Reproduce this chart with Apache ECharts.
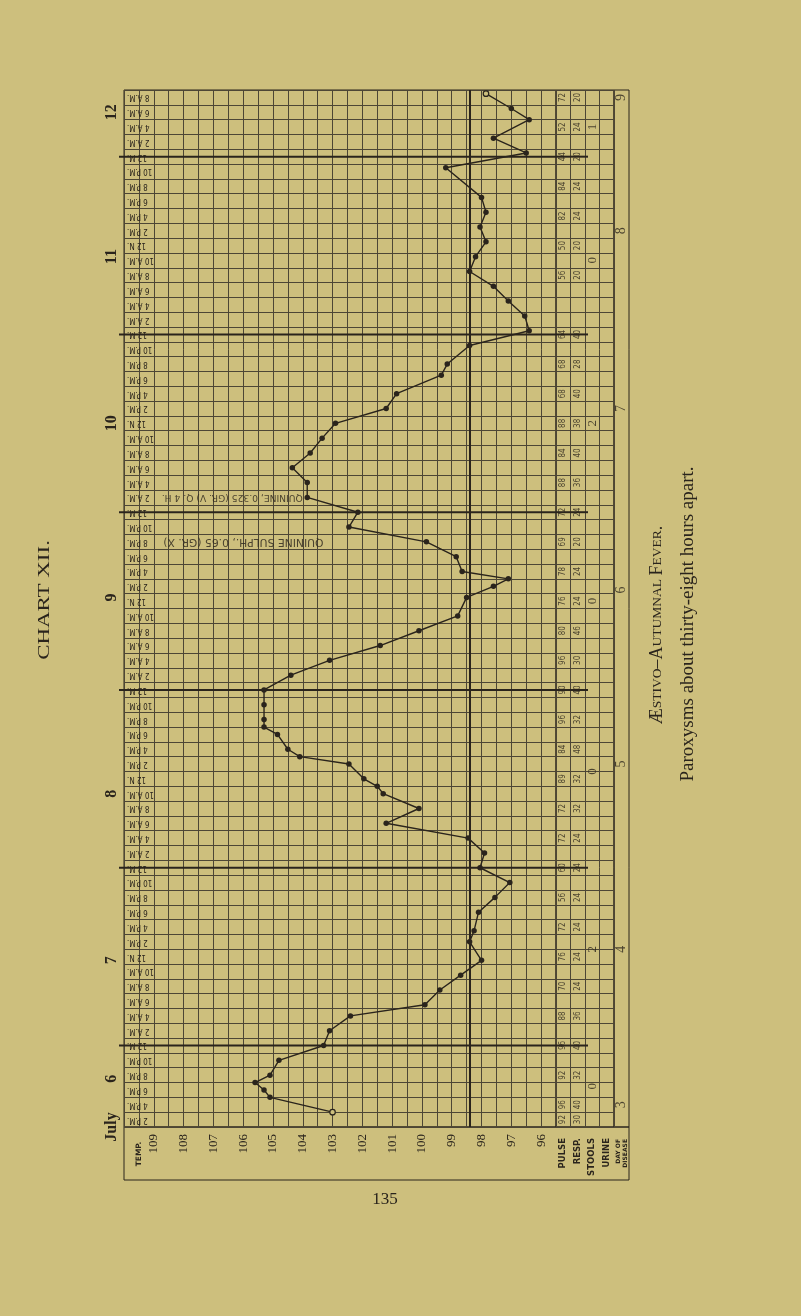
<!DOCTYPE html>
<html>
<head>
<meta charset="utf-8">
<script src="https://cdn.jsdelivr.net/npm/echarts@6.0.0/dist/echarts.min.js"></script>
<style>
html,body{margin:0;padding:0;background:#cdbf7d;}
#chart{width:801px;height:1316px;}
</style>
</head>
<body>
<div id="chart"></div>
<script>
// ---------------- DATA (hours counted from July 6, 0:00) ----------------
const obsHours = [15, 17, 18, 19, 20, 22, 24, 26, 28, 29.5, 31.5, 33.5, 35.5, 38, 39.5, 42, 44, 46, 48,
  50, 52, 54, 56, 58, 59, 60, 62, 63, 64, 66, 67, 68, 70, 72, 74, 76, 78, 80, 82,
  84.5, 86, 87, 88, 90, 92, 94, 96, 98, 100, 102, 104, 106, 108, 110, 112, 114.5, 116, 118.5, 120.5,
  122.5, 124.5, 126.5, 128.5, 130.5, 132.5, 134.5, 136.5, 138.5, 142.5, 144.5, 146.5, 149, 150.5, 152.5];
const temps = [103.0, 105.1, 105.3, 105.6, 105.1, 104.8, 103.3, 103.1, 102.4, 99.9, 99.4, 98.7, 98.0, 98.4, 98.25, 98.1, 97.55, 97.05, 98.05,
  97.9, 98.45, 101.2, 100.1, 101.3, 101.5, 101.95, 102.45, 104.1, 104.5, 104.85, 105.3, 105.3, 105.3, 105.3, 104.4, 103.1, 101.4, 100.1, 98.8,
  98.5, 97.6, 97.1, 98.65, 98.85, 99.85, 102.45, 102.15, 103.85, 103.85, 104.35, 103.75, 103.35, 102.9, 101.2, 100.85, 99.35, 99.15, 98.4, 96.4,
  96.55, 97.1, 97.6, 98.4, 98.2, 97.85, 98.05, 97.85, 98.0, 99.2, 96.5, 97.6, 96.4, 97.0, 97.85];
const hollowPoints = [0, 73];

const pulseHours = [152, 148, 144, 140, 136, 132, 128, 120, 116, 112, 108, 104, 100, 96, 92, 88, 84, 80, 76, 72, 68, 64, 60, 56, 52, 48, 44, 40, 36, 32, 28, 24, 20, 16, 14];
const pulse = [72, 52, 44, 84, 82, 50, 56, 64, 68, 68, 88, 84, 88, 72, 69, 78, 76, 80, 96, 90, 96, 84, 89, 72, 72, 60, 56, 72, 76, 70, 88, 96, 92, 96, 92];
const resp  = [20, 24, 20, 24, 24, 20, 20, 40, 28, 40, 38, 40, 36, 24, 20, 24, 24, 46, 30, 40, 32, 48, 32, 32, 24, 24, 24, 24, 24, 24, 36, 40, 32, 40, 30];

const stoolHours = [148, 130, 108, 84, 61, 37, 18.5];
const stools = [1, 0, 2, 0, 0, 2, 0];

const dayHours = [16, 37, 62, 85.5, 110, 134, 152];
const dayOfDisease = [3, 4, 5, 6, 7, 8, 9];

const dateHours = [13, 19.5, 35.5, 58, 84.5, 108, 130.5, 150];
const dateLabels = ['July', '6', '7', '8', '9', '10', '11', '12'];

const midnights = [24, 48, 72, 96, 120, 144];
const normalTemp = 98.4;
const tempLabels = [109, 108, 107, 106, 105, 104, 103, 102, 101, 100, 99, 98, 97, 96];
const columnNames = ['PULSE', 'RESP.', 'STOOLS', 'URINE'];

const noteTexts = ['QUININE, 0.325 (GR. V) Q. 4 H.', 'QUININE SULPH., 0.65 (GR. X)'];
const noteHours = [98, 92];
const noteTemps = [104.0, 103.3];
const noteSizes = [9.2, 10.8];

// ---------------- STYLE ----------------
const BG = '#cdbf7d', INK = '#2a241c', GRIDC = '#4d4635';
const SERIF = '"Liberation Serif", "DejaVu Serif", serif';
const SANS = '"Liberation Sans Narrow", "DejaVu Sans Condensed", "Liberation Sans", sans-serif';
const WIDE = '"DejaVu Sans", sans-serif';

const rowHours = [];
for (let h = 14; h <= 152; h += 2) rowHours.push(h);
function rowLabel(h) {
  const r = h % 24;
  if (r === 0) return '12 M.';
  if (r === 12) return '12 N.';
  return (r % 12) + ' ' + (r < 12 ? 'A.M.' : 'P.M.');
}

const chart = echarts.init(document.getElementById('chart'));
const splitStyle = { show: true, interval: 0, lineStyle: { color: GRIDC, width: 1 } };

const option = {
  backgroundColor: BG,
  animation: false,
  grid: [
    { left: 124, top: 90, width: 432, height: 1037, show: true, borderColor: INK, borderWidth: 1 },
    { left: 556, top: 90, width: 58, height: 1037, show: true, borderColor: INK, borderWidth: 1 },
    { left: 614, top: 90, width: 15, height: 1037, show: true, borderColor: INK, borderWidth: 1 }
  ],
  xAxis: [
    { gridIndex: 0, type: 'value', min: 95.5, max: 110, interval: 0.5, inverse: true,
      axisLine: { show: false }, axisTick: { show: false }, splitLine: splitStyle,
      axisLabel: { rotate: 90, margin: 7, fontFamily: SERIF, fontSize: 13, color: INK,
        formatter: v => tempLabels.includes(v) ? String(v) : '' } },
    { gridIndex: 1, type: 'category', data: columnNames,
      axisLine: { show: false }, axisTick: { show: false }, splitLine: splitStyle,
      axisLabel: { interval: 0, rotate: 90, margin: 11, fontFamily: WIDE, fontWeight: 'bold', fontSize: 8.5, color: INK } },
    { gridIndex: 2, type: 'category', data: ['DAY'],
      axisLine: { show: false }, axisTick: { show: false }, splitLine: { show: false },
      axisLabel: { interval: 0, rotate: 90, margin: 12, lineHeight: 7, fontFamily: WIDE, fontWeight: 'bold', fontSize: 6, color: INK,
        formatter: () => 'DAY OF\nDISEASE' } }
  ],
  yAxis: [
    { gridIndex: 0, type: 'value', min: 13, max: 153, show: false },
    { gridIndex: 0, type: 'category', data: rowHours.map(rowLabel), position: 'left',
      axisLine: { show: false }, axisTick: { show: false }, splitLine: splitStyle,
      axisLabel: { inside: true, rotate: 180, interval: 0, margin: 3, fontFamily: SANS, fontSize: 8, color: INK } },
    { gridIndex: 1, type: 'value', min: 13, max: 153, show: false },
    { gridIndex: 1, type: 'category', data: rowHours.map(String),
      axisLine: { show: false }, axisTick: { show: false }, axisLabel: { show: false }, splitLine: splitStyle },
    { gridIndex: 0, type: 'value', min: 13, max: 153, position: 'left',
      axisLine: { show: false }, axisTick: { show: false }, splitLine: { show: false },
      axisLabel: { customValues: dateHours, rotate: 90, margin: 4, fontFamily: SERIF, fontWeight: 'bold', fontSize: 16, color: INK,
        formatter: v => dateLabels[dateHours.indexOf(v)] } },
    { gridIndex: 2, type: 'value', min: 13, max: 153, show: false }
  ],
  series: [
    { name: 'Temperature', type: 'line', xAxisIndex: 0, yAxisIndex: 0,
      data: obsHours.map((h, i) => hollowPoints.includes(i)
        ? { value: [temps[i], h], itemStyle: { color: BG, borderColor: INK, borderWidth: 1.2 } }
        : [temps[i], h]),
      symbol: 'circle', symbolSize: 5.5, showAllSymbol: true,
      lineStyle: { color: INK, width: 1.4 }, itemStyle: { color: INK },
      markLine: { silent: true, symbol: 'none', label: { show: false },
        lineStyle: { color: INK, width: 2, type: 'solid' },
        data: [{ xAxis: normalTemp }] },
      z: 5 },
    { name: 'Day lines', type: 'custom', xAxisIndex: 0, yAxisIndex: 0, silent: true, clip: false, z: 4,
      data: midnights.map(h => [110, h]),
      renderItem: (params, api) => {
        const a = api.coord([110, api.value(1)]);
        const b = api.coord([95.5, api.value(1)]);
        return { type: 'line', shape: { x1: a[0] - 5, y1: a[1], x2: b[0], y2: b[1] },
          style: { stroke: INK, lineWidth: 2 } };
      } },
    { name: 'Notes', type: 'scatter', xAxisIndex: 0, yAxisIndex: 0, symbolSize: 0,
      data: noteHours.map((h, i) => ({ value: [noteTemps[i], h],
        label: { fontSize: noteSizes[i] } })),
      label: { show: true, position: 'inside', align: 'left', verticalAlign: 'middle', rotate: 180,
        fontFamily: WIDE, fontSize: 9, color: INK,
        formatter: p => noteTexts[p.dataIndex] }, z: 6 },
    { name: 'Pulse', type: 'scatter', xAxisIndex: 1, yAxisIndex: 2, symbolSize: 0,
      data: pulseHours.map((h, i) => ['PULSE', h, pulse[i]]),
      label: { show: true, position: 'inside', rotate: 90, fontFamily: SANS, fontSize: 8, color: INK,
        formatter: p => String(p.value[2]) } },
    { name: 'Resp', type: 'scatter', xAxisIndex: 1, yAxisIndex: 2, symbolSize: 0,
      data: pulseHours.map((h, i) => ['RESP.', h, resp[i]]),
      label: { show: true, position: 'inside', rotate: 90, fontFamily: SANS, fontSize: 8, color: INK,
        formatter: p => String(p.value[2]) } },
    { name: 'Stools', type: 'scatter', xAxisIndex: 1, yAxisIndex: 2, symbolSize: 0,
      data: stoolHours.map((h, i) => ['STOOLS', h, stools[i]]),
      label: { show: true, position: 'inside', rotate: 90, fontFamily: SERIF, fontSize: 13, color: INK,
        formatter: p => String(p.value[2]) } },
    { name: 'Day', type: 'scatter', xAxisIndex: 2, yAxisIndex: 5, symbolSize: 0,
      data: dayHours.map((h, i) => ['DAY', h, dayOfDisease[i]]),
      label: { show: true, position: 'inside', rotate: 90, fontFamily: SERIF, fontSize: 14, color: INK,
        formatter: p => String(p.value[2]) } },
    { name: 'Midnight', type: 'custom', xAxisIndex: 1, yAxisIndex: 2, silent: true, clip: false,
      data: midnights.map(h => [0, h]),
      renderItem: (params, api) => {
        const bw = api.size([1, 0])[0];
        const a = api.coord([0, api.value(1)]);
        const b = api.coord([1, api.value(1)]);
        return { type: 'line', shape: { x1: a[0] - bw / 2, y1: a[1], x2: b[0] + bw / 2 + 3, y2: b[1] },
          style: { stroke: INK, lineWidth: 2 } };
      } }
  ],
  graphic: [
    { type: 'rect', shape: { x: 124, y: 1127, width: 505, height: 53 }, style: { fill: 'none', stroke: INK, lineWidth: 1 } },
    { type: 'text', x: 139, y: 1154, rotation: Math.PI / 2,
      style: { text: 'TEMP.', font: 'bold 7.5px "DejaVu Sans", sans-serif', fill: INK, textAlign: 'center', textVerticalAlign: 'middle' } },
    { type: 'text', x: 45, y: 600, rotation: Math.PI / 2, scaleX: 1.35,
      style: { text: 'CHART XII.', font: '17px "Liberation Serif", serif', fill: INK, textAlign: 'center', textVerticalAlign: 'middle' } },
    { type: 'text', x: 657, y: 625, rotation: Math.PI / 2,
      style: { text: '{b|Æ}{s|STIVO}{b|–A}{s|UTUMNAL} {b|F}{s|EVER}{b|.}', textAlign: 'center', textVerticalAlign: 'middle', fill: INK,
        rich: { b: { fontFamily: SERIF, fontSize: 18, fill: INK }, s: { fontFamily: SERIF, fontSize: 13.5, fill: INK } } } },
    { type: 'text', x: 688, y: 624, rotation: Math.PI / 2,
      style: { text: 'Paroxysms about thirty-eight hours apart.', font: '19px "Liberation Serif", serif', fill: INK, textAlign: 'center', textVerticalAlign: 'middle' } },
    { type: 'text', x: 385, y: 1200,
      style: { text: '135', font: '17px "Liberation Serif", serif', fill: INK, textAlign: 'center', textVerticalAlign: 'middle' } }
  ]
};
chart.setOption(option);
</script>
</body>
</html>
